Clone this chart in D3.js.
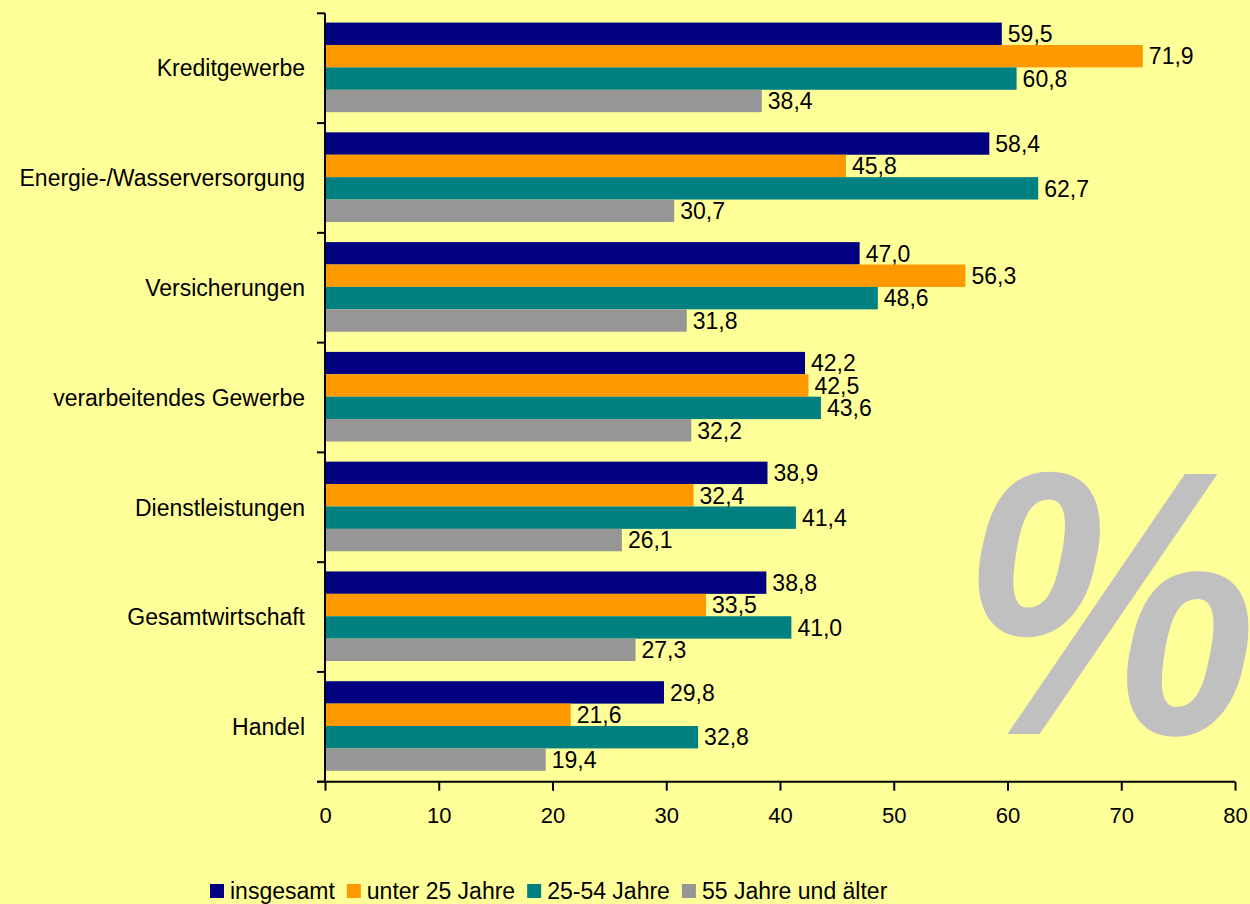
<!DOCTYPE html>
<html>
<head>
<meta charset="utf-8">
<script src="https://cdn.jsdelivr.net/npm/d3@7"></script>
<style>
  html, body { margin: 0; padding: 0; background: #ffff99; }
  svg { display: block; font-family: "Liberation Sans", Arial, sans-serif; }
</style>
</head>
<body>
<svg id="chart" width="1250" height="904"></svg>
<script>
// categories top to bottom
const categories = ["Kreditgewerbe", "Energie-/Wasserversorgung", "Versicherungen",
  "verarbeitendes Gewerbe", "Dienstleistungen", "Gesamtwirtschaft", "Handel"];

const seriesNames = ["insgesamt", "unter 25 Jahre", "25-54 Jahre", "55 Jahre und älter"];
const seriesColors = ["#000080", "#ff9900", "#008080", "#969696"];

const insgesamt = [59.5, 58.4, 47.0, 42.2, 38.9, 38.8, 29.8];
const unter25 = [71.9, 45.8, 56.3, 42.5, 32.4, 33.5, 21.6];
const mittel = [60.8, 62.7, 48.6, 43.6, 41.4, 41.0, 32.8];
const ab55 = [38.4, 30.7, 31.8, 32.2, 26.1, 27.3, 19.4];

const xTicks = [0, 10, 20, 30, 40, 50, 60, 70, 80];

const seriesValues = [insgesamt, unter25, mittel, ab55];

const svg = d3.select("#chart");

const plotLeft = 325, plotRight = 1235, plotTop = 13.3, plotBottom = 781.7;
const fs = "23px";

// big percent sign in the background
svg.append("g")
  .attr("transform", "translate(1109,734) scale(0.885,1)")
  .append("text")
  .attr("x", 0)
  .attr("y", 0)
  .attr("text-anchor", "middle")
  .attr("fill", "#c0c0c0")
  .style("font-size", "378px")
  .style("font-weight", "bold")
  .style("font-style", "italic")
  .text("%");

const x = d3.scaleLinear().domain([0, 80]).range([plotLeft, plotRight]);

const y = d3.scaleBand().domain(categories).range([plotTop, plotBottom]);

const inner = d3.scaleBand().domain(d3.range(4))
  .range([0, y.bandwidth()])
  .paddingInner(0)
  .paddingOuter(0.45)
  .align(0.46);

const groups = svg.append("g").selectAll("g")
  .data(categories)
  .join("g")
  .attr("transform", d => `translate(0,${y(d)})`);

groups.each(function (cat, i) {
  const g = d3.select(this);
  seriesValues.forEach((vals, s) => {
    g.append("rect")
      .attr("x", x(0))
      .attr("y", inner(s))
      .attr("width", x(vals[i]) - x(0))
      .attr("height", inner.bandwidth())
      .attr("fill", seriesColors[s]);
    g.append("text")
      .attr("x", x(vals[i]) + 6)
      .attr("y", inner(s) + inner.bandwidth() / 2)
      .attr("dy", "0.36em")
      .style("font-size", fs)
      .text(vals[i].toFixed(1).replace(".", ","));
  });
});

// category labels
svg.append("g").selectAll("text")
  .data(categories)
  .join("text")
  .attr("x", 305)
  .attr("y", d => y(d) + y.bandwidth() / 2)
  .attr("dy", "0.36em")
  .attr("text-anchor", "end")
  .style("font-size", fs)
  .text(d => d);

// y axis line with ticks between categories
const yAxis = svg.append("g").attr("stroke", "#000").attr("stroke-width", 2);
yAxis.append("line").attr("x1", plotLeft).attr("x2", plotLeft).attr("y1", plotTop).attr("y2", plotBottom);
yAxis.selectAll(".tk")
  .data(categories.map(c => y(c)).concat([plotBottom]))
  .join("line")
  .attr("x1", plotLeft - 8).attr("x2", plotLeft)
  .attr("y1", d => d).attr("y2", d => d);

// x axis
const xAxis = svg.append("g")
  .attr("transform", `translate(0,${plotBottom})`)
  .call(d3.axisBottom(x).tickValues(xTicks).tickSize(9).tickPadding(17).tickSizeOuter(0));
xAxis.select(".domain").attr("stroke-width", 2).attr("d", `M${plotLeft - 8},0H${plotRight}`);
xAxis.selectAll(".tick line").attr("stroke-width", 2);
xAxis.selectAll(".tick text")
  .style("font-size", "22px")
  .style("font-family", "'Liberation Sans', Arial, sans-serif")
  .attr("fill", "#000");

// legend
const legend = svg.append("g").attr("transform", "translate(210,891)");
let lx = 0;
seriesNames.forEach((name, i) => {
  const item = legend.append("g").attr("transform", `translate(${lx},0)`);
  item.append("rect").attr("x", 0).attr("y", -7).attr("width", 14).attr("height", 14)
    .attr("fill", seriesColors[i]);
  const t = item.append("text").attr("x", 20).attr("y", 0).attr("dy", "0.36em")
    .style("font-size", fs).text(name);
  lx += 20 + t.node().getComputedTextLength() + 12;
});
</script>
</body>
</html>
